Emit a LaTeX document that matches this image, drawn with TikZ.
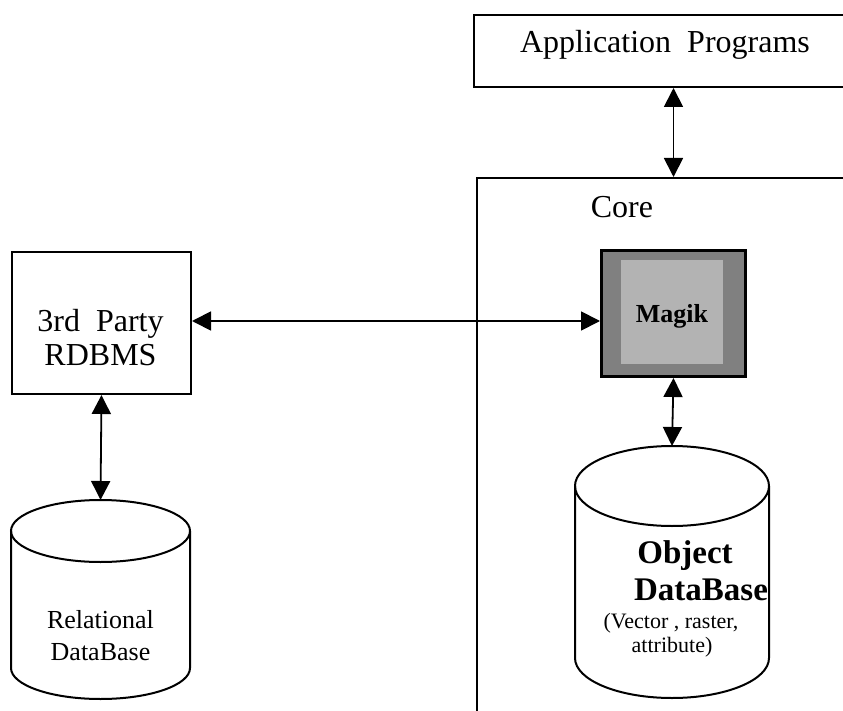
\documentclass[tikz,border=0pt]{standalone}
\usepackage{fontspec}
\setmainfont{Liberation Serif}
\usetikzlibrary{arrows.meta}
\definecolor{magikouter}{HTML}{808080}
\definecolor{magikinner}{HTML}{B3B3B3}
\tikzset{
  frame/.style={draw, line width=2pt, fill=white, inner sep=0pt, anchor=north west},
  label/.style={inner sep=0pt, anchor=base},
  big/.style={font=\fontsize{32pt}{35pt}\selectfont},
  mid/.style={font=\fontsize{26pt}{30pt}\selectfont},
  small/.style={font=\fontsize{22pt}{25pt}\selectfont},
  bigbold/.style={font=\fontsize{33pt}{36pt}\selectfont\bfseries},
  link/.style={line width=1.8pt, {Triangle[length=19pt,width=19pt]}-{Triangle[length=19pt,width=19pt]}},
  drum/.style={draw, line width=2pt, fill=white}
}
\begin{document}
\begin{tikzpicture}[x=1pt,y=1pt]
\useasboundingbox (0,0) rectangle (843,-711);

% top box and the core frame (both run past the right edge)
\node[frame, minimum width=400pt, minimum height=72pt] (app) at (473,-14) {};
\node[label, big] (apptext) at (665,-53) {Application~ Programs};
\node[frame, minimum width=420pt, minimum height=600pt] (core) at (476,-177) {};
\node[label, big] (coretext) at (622,-218) {Core};

% Magik block
\node[draw, line width=3pt, fill=magikouter, minimum width=144pt, minimum height=126pt,
      inner sep=0pt, anchor=north west] (magik) at (600,-249) {};
\node[fill=magikinner, minimum width=102pt, minimum height=104pt, inner sep=0pt,
      anchor=north west] (magikin) at (621,-260) {};
\node[label, mid, font=\fontsize{26pt}{30pt}\selectfont\bfseries] (magiktext) at (672,-322) {Magik};

% third party RDBMS
\node[frame, minimum width=179pt, minimum height=142pt] (rdbms) at (11,-251) {};
\node[label, big] (rdbms1) at (100.5,-331) {3rd~ Party};
\node[label, big] (rdbms2) at (100.5,-365) {RDBMS};

% relational database drum
\path[drum] (11,-531) -- (11,-668)
  arc[start angle=180, end angle=360, x radius=89.5pt, y radius=31pt] -- (190,-531);
\draw[line width=2pt] (100.5,-531) ellipse [x radius=89.5pt, y radius=31pt];
\coordinate (reltop) at (100.5,-500);
\node[label, mid] (rel1) at (100.5,-628) {Relational};
\node[label, mid] (rel2) at (100.5,-660) {DataBase};

% object database drum
\path[drum] (575,-486) -- (575,-658)
  arc[start angle=180, end angle=360, x radius=97pt, y radius=40pt] -- (769,-486);
\draw[line width=2pt] (672,-486) ellipse [x radius=97pt, y radius=40pt];
\coordinate (odbtop) at (672,-446);
\node[label, bigbold] (odb1) at (685,-563) {Object};
\node[label, bigbold] (odb2) at (701,-600) {DataBase};
\node[label, small] (odb3) at (671,-628) {(Vector , raster,};
\node[label, small] (odb4) at (672,-652) {attribute)};

% connectors
\coordinate (hline) at (0,-321);
\draw[link] (magik |- app.south) -- (magik |- core.north);
\draw[link] (rdbms.east |- hline) -- (magik.west |- hline);
\draw[link] (magik.south) -- (odbtop);
\draw[link] (rdbms.south) -- (reltop);
\end{tikzpicture}
\end{document}
